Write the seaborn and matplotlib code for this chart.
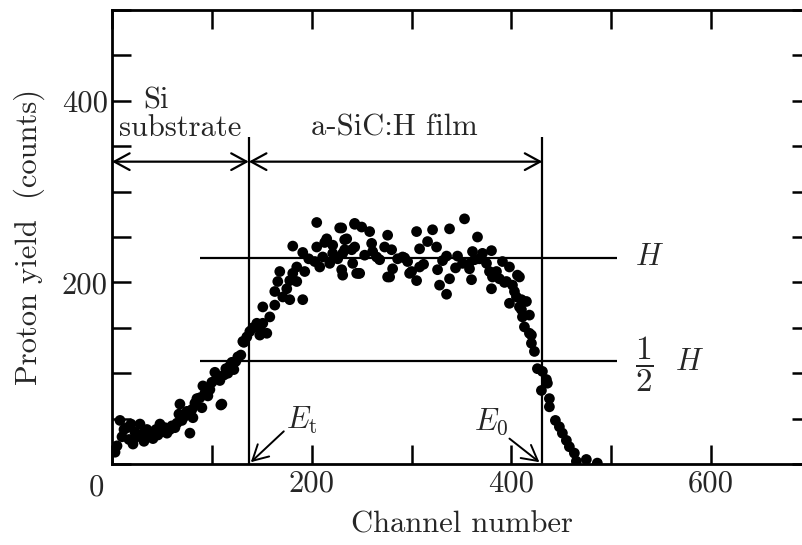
import matplotlib
matplotlib.use("Agg")
import matplotlib.pyplot as plt
import seaborn as sns
import pandas as pd
from matplotlib.patches import FancyArrowPatch
from matplotlib.ticker import MultipleLocator, FixedLocator

# Proton recoil spectrum: channel number vs proton yield
channel = [3, 5, 8, 10, 12, 15, 17, 19, 21, 23, 25, 28, 30, 32, 35, 37, 40, 41, 44, 46,
           48, 50, 53, 55, 58, 60, 63, 65, 67, 68, 70, 72, 75, 78, 80, 81, 83, 85, 88, 90,
           91, 93, 95, 96, 98, 100, 103, 105, 108, 109, 110, 112, 114, 116, 118, 120, 122,
           124, 126, 129, 131, 132, 135, 138, 141, 145, 148, 148, 151, 151, 155, 158, 163,
           163, 166, 168, 171, 175, 178, 178, 181, 181, 185, 185, 191, 191, 193, 203, 205,
           205, 208, 211, 215, 218, 221, 221, 228, 230, 230, 231, 231, 233, 233, 235, 240,
           241, 243, 243, 243, 245, 248, 250, 258, 260, 261, 268, 273, 276, 276, 280, 281,
           291, 296, 300, 305, 305, 308, 308, 316, 321, 325, 326, 328, 335, 335, 338, 338,
           346, 351, 353, 358, 360, 361, 363, 366, 371, 375, 378, 380, 380, 381, 388, 391,
           395, 398, 398, 401, 405, 408, 408, 410, 410, 411, 413, 415, 418, 418, 420, 420,
           423, 426, 431, 435, 436, 430, 438, 438, 444, 448, 451, 455, 458, 463, 465, 475,
           486, 247, 253, 265, 278, 286, 293, 298, 312, 331, 344, 357, 368, 385, 393, 403,
           406, 197, 213, 226]
counts = [13, 20, 48, 30, 38, 40, 27, 44, 22, 35, 30, 44, 33, 25, 38, 30, 35, 28, 38, 32,
          44, 36, 40, 34, 38, 42, 40, 45, 55, 66, 48, 52, 58, 34, 60, 51, 67, 72, 73, 62,
          86, 78, 77, 75, 82, 90, 101, 95, 92, 65, 66, 98, 105, 100, 108, 112, 104,
          113, 118, 120, 135, 134, 140, 146, 150, 155, 150, 142, 155, 173, 144, 162, 190,
          175, 201, 212, 184, 193, 202, 181, 210, 240, 217, 201, 233, 181, 212, 223, 266,
          239, 217, 228, 248, 221, 241, 232, 260, 260, 214, 232, 208, 247, 236, 248, 236,
          221, 264, 239, 265, 210, 210, 261, 256, 243, 234, 225, 239, 252, 206, 236, 215,
          228, 223, 212, 256, 202, 237, 217, 245, 258, 239, 214, 197, 187, 229, 259, 204,
          229, 221, 270, 215, 203, 234, 225, 250, 232, 221, 212, 235, 193, 206, 204, 223,
          201, 217, 177, 197, 184, 206, 173, 181, 170, 162, 151, 179, 164, 144, 142, 133,
          124, 105, 102, 93, 89, 81, 72, 63, 48, 41, 34, 26, 19, 12, 3, 5,
          1, 210, 230, 228, 206, 226, 227, 210, 220, 224, 216, 220, 226, 212, 200, 190,
          208, 226, 244, 226]

# Reference levels and energy edges
H_LEVEL = 227
E_T = 137
E_0 = 431

x_ticks = [0, 200, 400, 600]
y_ticks = [200, 400]

df = pd.DataFrame({"channel": channel, "counts": counts})

sns.set_style("ticks")
plt.rcParams["font.family"] = ["cmr10", "DejaVu Serif"]
plt.rcParams["mathtext.fontset"] = "cm"
plt.rcParams["axes.formatter.use_mathtext"] = True

fig = plt.figure(figsize=(8.03, 5.45), dpi=100)
ax = fig.add_axes([0.1395, 0.1486, 0.8705, 0.833])

sns.scatterplot(data=df, x="channel", y="counts", color="black", s=60,
                edgecolor="none", linewidth=0, ax=ax, zorder=3)

ax.set_xlim(0, 700)
ax.set_ylim(0, 500)

for sp in ax.spines.values():
    sp.set_linewidth(2.0)
    sp.set_color("black")

ax.xaxis.set_major_locator(FixedLocator(x_ticks))
ax.xaxis.set_minor_locator(MultipleLocator(100))
ax.yaxis.set_major_locator(FixedLocator(y_ticks))
ax.yaxis.set_minor_locator(MultipleLocator(50))
ax.set_xticklabels(["", "200", "400", "600"])
ax.set_yticklabels([str(v) for v in y_ticks])
ax.tick_params(which="both", direction="in", length=14, width=1.8, color="black",
               top=True, right=True, labelsize=22, pad=4)
ax.tick_params(axis="y", which="both", pad=3)

# corner label for the origin
ax.annotate("0", xy=(0, 0), xycoords="axes fraction", xytext=(-11, -7),
            textcoords="offset points", ha="center", va="top", fontsize=22)

ax.set_xlabel("Channel number", fontsize=22, labelpad=10)
ax.set_ylabel("Proton yield  (counts)", fontsize=22, labelpad=12)

# region boundaries
ax.vlines([E_T, E_0], 0, 360, color="black", lw=1.6, zorder=2)
ax.hlines([H_LEVEL, H_LEVEL / 2], 88, 506, color="black", lw=1.6, zorder=2)

arrow_kw = dict(arrowstyle="<->,head_length=0.55,head_width=0.3", mutation_scale=20,
                color="black", lw=1.6, shrinkA=0, shrinkB=0)
ax.add_patch(FancyArrowPatch((0, 333), (E_T, 333), **arrow_kw))
ax.add_patch(FancyArrowPatch((E_T, 333), (E_0, 333), **arrow_kw))

ax.text(44, 400, "Si", fontsize=22, ha="center", va="center")
ax.text(68, 370, "substrate", fontsize=22, ha="center", va="center")
ax.text(283, 370, "a-SiC:H film", fontsize=22, ha="center", va="center")

ax.text(538, 228, r"$H$", fontsize=22, ha="center", va="center")
ax.text(533, 110, r"$\dfrac{1}{2}$", fontsize=24, ha="center", va="center")
ax.text(578, 112, r"$H$", fontsize=22, ha="center", va="center")

# edge markers with pointer arrows
ax.text(190, 48, r"$E_{\rm t}$", fontsize=22, ha="center", va="center")
ax.text(380, 46, r"$E_0$", fontsize=22, ha="center", va="center")
pointer_kw = dict(arrowstyle="->,head_length=0.55,head_width=0.3", mutation_scale=20,
                  color="black", lw=1.4, shrinkA=0, shrinkB=0)
ax.add_patch(FancyArrowPatch((172, 36), (E_T + 2, 2), **pointer_kw))
ax.add_patch(FancyArrowPatch((398, 28), (E_0 - 3, 2), **pointer_kw))

fig.savefig("out.png", dpi=100)
